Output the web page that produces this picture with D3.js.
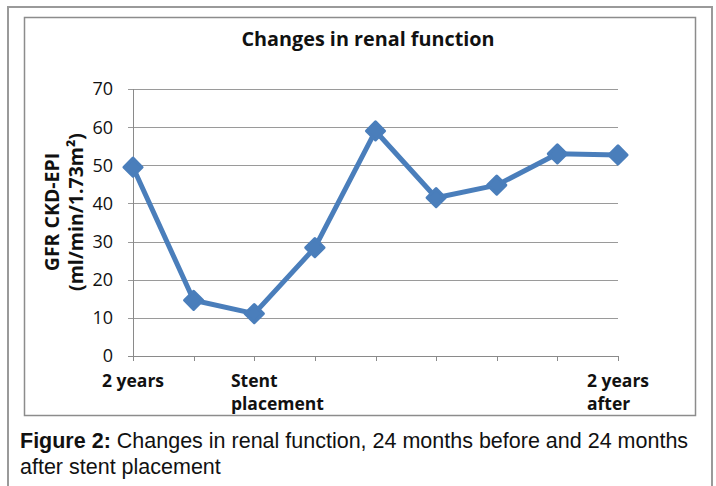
<!DOCTYPE html>
<html>
<head>
<meta charset="utf-8">
<script src="https://cdn.jsdelivr.net/npm/d3@7"></script>
<style>
  body { margin: 0; background: #fff; }
  svg { display: block; }
</style>
</head>
<body>
<div id="chart"></div>
<script>

// values
const categories = ["2 years", "", "Stent\nplacement", "", "", "", "", "", "2 years\nafter"];
const gfrValues = [49.5, 14.6, 11.1, 28.4, 59, 41.5, 44.8, 53, 52.7];
const yTicks = [0, 10, 20, 30, 40, 50, 60, 70];
const chartTitle = "Changes in renal function";
const yTitleLines = ["GFR CKD-EPI", "(ml/min/1.73m²)"];
const captionBold = "Figure 2:";
const captionLines = [" Changes in renal function, 24 months before and 24 months", "after stent placement"];

const W = 716, H = 486;
const margin = {top: 89, right: 98, bottom: 130, left: 133};
const width = W - margin.left - margin.right;
const height = H - margin.top - margin.bottom;

const svg = d3.select("#chart").append("svg")
	.attr("width", W)
	.attr("height", H);

// outer frame + chart box
svg.append("rect")
	.attr("x", 8).attr("y", 7)
	.attr("width", 704).attr("height", 484)
	.attr("fill", "none")
	.attr("stroke", "#9a9a9a")
	.attr("stroke-width", 2);

svg.append("rect")
	.attr("x", 24.5).attr("y", 17.5)
	.attr("width", 671).attr("height", 398)
	.attr("fill", "#fff")
	.attr("stroke", "#8c8c8c")
	.attr("stroke-width", 1.5);

svg.append("text")
	.attr("x", 368).attr("y", 46)
	.attr("text-anchor", "middle")
	.attr("font-family", "Open Sans, sans-serif")
	.attr("font-weight", "bold")
	.attr("font-size", 19.8)
	.attr("fill", "#111")
	.text(chartTitle);

const g = svg.append("g")
	.attr("transform", "translate(" + margin.left + "," + margin.top + ")");

const x = d3.scalePoint()
	.domain(d3.range(categories.length))
	.range([0, width]);

const y = d3.scaleLinear()
	.domain([0, 70])
	.range([height, 0]);

// gridlines with little outside ticks
g.selectAll(".grid")
	.data(yTicks)
	.enter()
	.append("line")
	.attr("x1", -5)
	.attr("x2", width)
	.attr("y1", d => Math.round(y(d)) + 0.5)
	.attr("y2", d => Math.round(y(d)) + 0.5)
	.attr("stroke", d => d === 0 ? "#8a8a8a" : "#9a9a9a")
	.attr("stroke-width", 1);

g.append("line")
	.attr("x1", 0.5).attr("x2", 0.5)
	.attr("y1", 0).attr("y2", height)
	.attr("stroke", "#8a8a8a");

g.selectAll(".ylab")
	.data(yTicks)
	.enter()
	.append("text")
	.attr("x", -20)
	.attr("y", d => y(d))
	.attr("dy", "0.36em")
	.attr("text-anchor", "end")
	.attr("font-family", "Open Sans, sans-serif")
	.attr("font-size", 18)
	.attr("fill", "#111")
	.text(d => d);

// category ticks
g.selectAll(".xtick")
	.data(d3.range(categories.length))
	.enter()
	.append("line")
	.attr("x1", d => Math.round(x(d)) + 0.5)
	.attr("x2", d => Math.round(x(d)) + 0.5)
	.attr("y1", height)
	.attr("y2", height + 5)
	.attr("stroke", "#8a8a8a");

// category labels: first line centred on tick, wrapped line left-aligned under it
categories.forEach((c, i) => {
	if (!c) return;
	const lines = c.split("\n");
	const t = g.append("text")
		.attr("font-family", "Open Sans, sans-serif")
		.attr("font-weight", "bold")
		.attr("font-size", 17.5)
		.attr("fill", "#111")
		.attr("y", height + 31);
	const first = t.append("tspan").text(lines[0]);
	const w0 = first.node().getComputedTextLength();
	const left = x(i) - w0 / 2;
	first.attr("x", left);
	lines.slice(1).forEach(l => {
		t.append("tspan").attr("x", left).attr("dy", 23).text(l);
	});
});

// line + diamonds
const line = d3.line()
	.x((d, i) => x(i))
	.y(d => y(d));

g.append("path")
	.datum(gfrValues)
	.attr("d", line)
	.attr("fill", "none")
	.attr("stroke", "#4a7ebb")
	.attr("stroke-width", 5)
	.attr("stroke-linejoin", "round");

const diamond = d3.symbol().type(d3.symbolDiamond2).size(210);
g.selectAll(".pt")
	.data(gfrValues)
	.enter()
	.append("path")
	.attr("d", diamond)
	.attr("transform", (d, i) => "translate(" + x(i) + "," + y(d) + ")")
	.attr("fill", "#4a7ebb")
	.attr("stroke", "#4a7ebb")
	.attr("stroke-width", 3)
	.attr("stroke-linejoin", "round");

// y-axis title
const yt = svg.append("text")
	.attr("transform", "translate(0,212) rotate(-90)")
	.attr("text-anchor", "middle")
	.attr("font-family", "Open Sans, sans-serif")
	.attr("font-weight", "bold")
	.attr("font-size", 19.5)
	.attr("fill", "#111");
yTitleLines.forEach((l, i) => {
	yt.append("tspan").attr("x", 0).attr("y", 59 + i * 24).text(l);
});

// caption
const cap = svg.append("text")
	.attr("font-family", "Liberation Sans, Arial, sans-serif")
	.attr("font-size", 21.5)
	.attr("fill", "#111");
cap.append("tspan").attr("x", 20).attr("y", 448)
	.attr("font-weight", "bold").text(captionBold);
cap.append("tspan").text(captionLines[0]);
cap.append("tspan").attr("x", 20).attr("y", 474).text(captionLines[1]);

</script>
</body>
</html>
